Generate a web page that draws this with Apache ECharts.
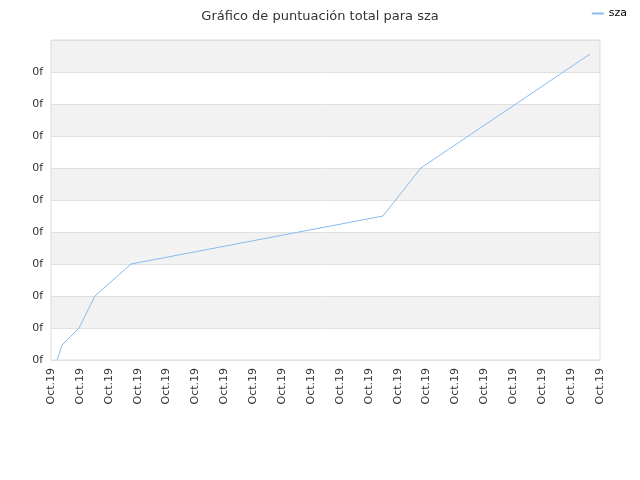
<!DOCTYPE html>
<html><head><meta charset="utf-8">
<script src="https://cdn.jsdelivr.net/npm/echarts@6/dist/echarts.min.js"></script>
<style>html,body{margin:0;padding:0}#c{width:640px;height:480px}</style></head>
<body><div id="c"></div>
<script>
const xValues = [0.21, 0.38, 0.97, 1.52, 2.77, 11.49, 12.8, 18.65];
const yValues = [0, 0.47, 1, 2, 3, 4.5, 6, 9.56];
const xTickLabel = 'Oct.19';
const yTickLabel = '0f';
const seriesName = 'sza';
const chart = echarts.init(document.getElementById('c'));
chart.setOption({
  animation:false,
  title:{text:'Gráfico de puntuación total para sza',left:'center',top:5,textStyle:{fontSize:13,fontWeight:'normal',color:'#333',fontFamily:'DejaVu Sans'}},
  legend:{right:8,top:3,data:[seriesName],itemWidth:12,itemHeight:2,textStyle:{fontSize:11,color:'#000',fontFamily:'DejaVu Sans'}},
  grid:{left:51,right:40,top:40,bottom:120},
  xAxis:{type:'value',min:0,max:19,interval:1,
    axisLine:{show:false},axisTick:{show:false},splitLine:{show:false},
    axisLabel:{rotate:90,formatter:()=>xTickLabel,fontSize:11,color:'#333',fontFamily:'DejaVu Sans'}},
  yAxis:{type:'value',min:0,max:10,interval:1,
    axisLine:{show:false},axisTick:{show:false},
    splitLine:{lineStyle:{color:'#e0e0e0'}},
    splitArea:{show:true,areaStyle:{color:['#ffffff','#f2f2f2']}},
    axisLabel:{formatter:v=>v<10?yTickLabel:'',fontSize:11,color:'#333',fontFamily:'DejaVu Sans'}},
  series:[{name:seriesName,type:'line',data:xValues.map((x,i)=>[x,yValues[i]]),
    symbol:'none',lineStyle:{width:1,color:'#88bbee'},itemStyle:{color:'#88bbee'}},
    {type:'line',data:[],markArea:{}}],
  graphic:[{type:'rect',shape:{x:51,y:40,width:549,height:320},style:{fill:'none',stroke:'#dddddd',lineWidth:1},z:10}]
});
</script></body></html>
